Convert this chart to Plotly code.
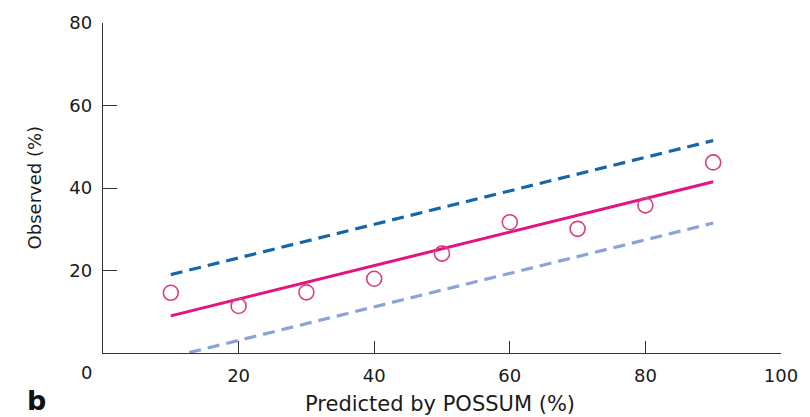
import plotly.graph_objects as go

# Observed vs POSSUM-predicted rates (%)
predicted = [10, 20, 30, 40, 50, 60, 70, 80, 90]
observed = [14.6, 11.4, 14.7, 18.0, 24.1, 31.7, 30.1, 35.8, 46.2]

# Fitted line with upper and lower bounds
line_x = [10, 90]
fit_y = [9.0, 41.5]
upper_y = [19.0, 51.5]
lower_y = [-1.0, 31.5]

x_ticks = [20, 40, 60, 80, 100]
y_ticks = [20, 40, 60, 80]

FONT = "DejaVu Sans"
TEXT_COLOR = "#1a1a1a"
AXIS_COLOR = "#333333"

fig = go.Figure()

fig.add_trace(go.Scatter(
    x=line_x, y=upper_y, mode="lines",
    line=dict(color="#1766a8", width=3.2, dash="12px,7px"),
    showlegend=False, hoverinfo="skip",
))
fig.add_trace(go.Scatter(
    x=line_x, y=lower_y, mode="lines",
    line=dict(color="#8aa4d4", width=3.2, dash="12px,7px"),
    showlegend=False, hoverinfo="skip",
))
fig.add_trace(go.Scatter(
    x=line_x, y=fit_y, mode="lines",
    line=dict(color="#e3137f", width=3),
    showlegend=False,
))
fig.add_trace(go.Scatter(
    x=predicted, y=observed, mode="markers",
    marker=dict(symbol="circle-open", size=15, color="#d6407f",
                line=dict(width=1.6, color="#d6407f")),
    showlegend=False,
))

fig.update_layout(
    width=810, height=417,
    margin=dict(l=103, r=25, t=21, b=64),
    paper_bgcolor="white", plot_bgcolor="white",
    font=dict(family=FONT, size=18, color=TEXT_COLOR),
    xaxis=dict(
        range=[0, 100], tickvals=x_ticks, ticks="inside", ticklen=12,
        tickwidth=1.3, tickcolor=AXIS_COLOR, showline=True, linecolor=AXIS_COLOR,
        linewidth=1.3, showgrid=False, zeroline=False, ticklabelstandoff=6,
        tickfont=dict(family=FONT, size=18, color=TEXT_COLOR),
    ),
    yaxis=dict(
        range=[0, 80], tickvals=y_ticks, ticks="inside", ticklen=14,
        tickwidth=1.3, tickcolor=AXIS_COLOR, showline=True, linecolor=AXIS_COLOR,
        linewidth=1.3, showgrid=False, zeroline=False, ticklabelstandoff=6,
        tickfont=dict(family=FONT, size=18, color=TEXT_COLOR),
    ),
    annotations=[
        dict(text="0", x=0, y=0, xref="x", yref="y", xshift=-17, yshift=-19,
             showarrow=False, font=dict(family=FONT, size=18, color=TEXT_COLOR)),
        dict(text="Predicted by POSSUM (%)", x=442, y=404, xref="paper", yref="paper",
             showarrow=False, font=dict(family=FONT, size=21, color=TEXT_COLOR)),
        dict(text="Observed (%)", x=34, y=187, xref="paper", yref="paper",
             textangle=-90, showarrow=False,
             font=dict(family=FONT, size=18, color=TEXT_COLOR)),
        dict(text="<b>b</b>", x=36, y=401, xref="paper", yref="paper",
             showarrow=False, font=dict(family=FONT, size=27, color="#111111")),
    ],
)

# Annotation positions above are given in pixels; convert to paper fractions.
W_PLOT = 810 - 103 - 25
H_PLOT = 417 - 21 - 64
for ann in fig.layout.annotations:
    if ann.xref == "paper":
        ann.x = (ann.x - 103) / W_PLOT
        ann.y = (417 - 64 - ann.y) / H_PLOT
        ann.xanchor = "center"
        ann.yanchor = "middle"

fig.write_html("out.html")
